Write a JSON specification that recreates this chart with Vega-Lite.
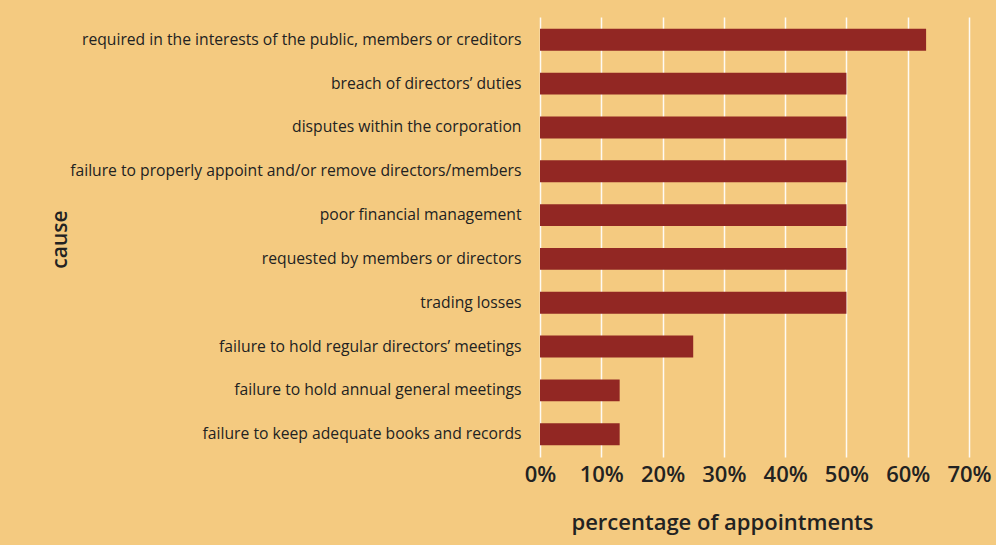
{
  "$schema": "https://vega.github.io/schema/vega-lite/v6.json",
  "width": 429,
  "height": 440,
  "autosize": {"type": "none"},
  "padding": {"left": 540, "top": 17, "right": 27, "bottom": 88},
  "background": "#F4CA80",
  "config": {"view": {"stroke": null}, "font": "Open Sans"},
  "data": {"values": [
    {"cause": "required in the interests of the public, members or creditors", "pct": 0.63},
    {"cause": "breach of directors’ duties", "pct": 0.5},
    {"cause": "disputes within the corporation", "pct": 0.5},
    {"cause": "failure to properly appoint and/or remove directors/members", "pct": 0.5},
    {"cause": "poor financial management", "pct": 0.5},
    {"cause": "requested by members or directors", "pct": 0.5},
    {"cause": "trading losses", "pct": 0.5},
    {"cause": "failure to hold regular directors’ meetings", "pct": 0.25},
    {"cause": "failure to hold annual general meetings", "pct": 0.13},
    {"cause": "failure to keep adequate books and records", "pct": 0.13}
  ]},
  "mark": {"type": "bar", "color": "#922723"},
  "encoding": {
    "y": {
      "field": "cause", "type": "nominal", "sort": null,
      "scale": {"paddingInner": 0.5, "paddingOuter": 0.27},
      "axis": {
        "title": "cause", "titleFontSize": 21, "titleFontWeight": 600, "titleColor": "#222222",
        "titleX": -480, "titleY": 222, "titleAngle": -90, "titleAlign": "center", "titleBaseline": "middle",
        "labelFontSize": 15.7, "labelColor": "#222222", "labelPadding": 19, "labelLimit": 600,
        "ticks": false, "domain": false, "grid": false
      }
    },
    "x": {
      "field": "pct", "type": "quantitative",
      "scale": {"domain": [0, 0.7], "nice": false},
      "axis": {
        "title": "percentage of appointments", "titleFontSize": 22, "titleFontWeight": 600, "titleColor": "#222222",
        "titleX": 182, "titleY": 65, "titleAlign": "center", "titleBaseline": "middle",
        "format": ".0%", "values": [0, 0.1, 0.2, 0.3, 0.4, 0.5, 0.6, 0.7],
        "labelFontSize": 22, "labelFontWeight": 600, "labelColor": "#222222", "labelPadding": 7,
        "labelFlush": false,
        "ticks": false, "domain": false,
        "grid": true, "gridColor": "#FFFFFF", "gridWidth": 1.5, "gridOpacity": 0.9
      }
    }
  }
}
